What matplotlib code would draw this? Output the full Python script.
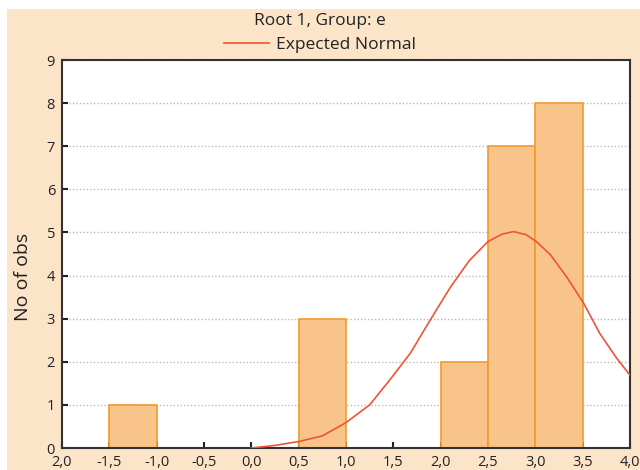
import matplotlib.pyplot as plt
from matplotlib.patches import Rectangle

# histogram bins (left edges) and counts
bin_left = [-1.5, 0.5, 2.0, 2.5, 3.0]
counts = [1, 3, 2, 7, 8]
bin_width = 0.5

# expected normal curve
curve_x = [0.0, 0.25, 0.5, 0.75, 1.0, 1.25, 1.47, 1.68, 1.89, 2.1, 2.3,
           2.5, 2.65, 2.77, 2.9, 3.01, 3.16, 3.33, 3.51, 3.68, 3.86, 4.0]
curve_y = [0.0, 0.06, 0.15, 0.28, 0.59, 1.0, 1.6, 2.2, 2.97, 3.72, 4.34,
           4.79, 4.96, 5.02, 4.95, 4.79, 4.48, 3.97, 3.36, 2.66, 2.08, 1.69]

x_ticks = [-2.0, -1.5, -1.0, -0.5, 0.0, 0.5, 1.0, 1.5, 2.0, 2.5, 3.0, 3.5, 4.0]
x_labels = ["2,0", "-1,5", "-1,0", "-0,5", "0,0", "0,5", "1,0", "1,5",
            "2,0", "2,5", "3,0", "3,5", "4,0"]
y_ticks = list(range(0, 10))

bg = "#FCE4C8"
plt.rcParams["font.family"] = ["Open Sans", "DejaVu Sans"]

fig = plt.figure(figsize=(6.4, 4.7), dpi=100)
fig.patches.append(Rectangle((7 / 640, 0), 1, 1 - 9 / 470,
                             transform=fig.transFigure, facecolor=bg,
                             edgecolor="none", zorder=-10))

ax = fig.add_axes([62 / 640, 22 / 470, 568 / 640, 388 / 470])
ax.set_facecolor("white")
ax.bar(bin_left, counts, width=bin_width, align="edge",
       color="#F9C48A", edgecolor="#F39A2E", linewidth=1.2, zorder=2)
ax.plot(curve_x, curve_y, color="#EE5533", linewidth=1.2, zorder=3,
        label="Expected Normal")

ax.set_xlim(-2, 4)
ax.set_ylim(0, 9)
ax.set_xticks(x_ticks)
ax.set_xticklabels(x_labels, fontsize=10.5)
ax.set_yticks(y_ticks)
ax.set_yticklabels([str(v) for v in y_ticks], fontsize=10.5)
ax.tick_params(axis="both", direction="in", length=4, width=1.5,
               colors="#222222")
ax.tick_params(axis="x", pad=5)
ax.tick_params(axis="y", pad=5)
ax.yaxis.grid(True, linestyle=(0, (1, 1.5)), color="#BBBBBB", linewidth=1)
ax.set_axisbelow(True)
for s in ax.spines.values():
    s.set_color("#333333")
    s.set_linewidth(1.5)
ax.set_ylabel("No of obs", fontsize=14, color="#222222")
ax.yaxis.set_label_coords(-30 / 568, 0.44)

fig.text(0.5, 1 - 21 / 470, "Root 1, Group: e", ha="center", va="center",
         fontsize=12.5, color="#222222")
fig.legend(loc="center", bbox_to_anchor=(0.5, 1 - 45 / 470), frameon=False,
           fontsize=12.5, handlelength=2.6, handletextpad=0.4,
           borderpad=0, labelcolor="#222222")

fig.savefig("out.png", dpi=100, facecolor="white")
